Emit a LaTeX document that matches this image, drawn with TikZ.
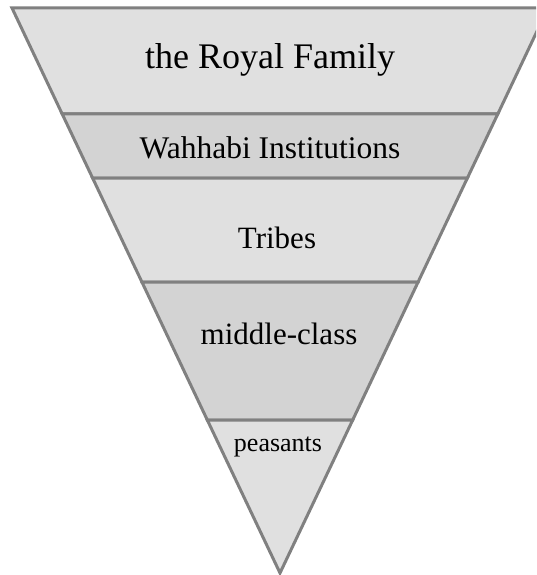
\documentclass[tikz,border=0pt]{standalone}
\usepackage{fontspec}
\setmainfont{Liberation Serif}
\definecolor{bandlight}{HTML}{E0E0E0}
\definecolor{banddark}{HTML}{D3D3D3}
\definecolor{edgegray}{HTML}{808080}
\begin{document}
\begin{tikzpicture}[x=1pt,y=-1pt,
  band/.style={draw=edgegray,line width=3pt,line join=miter},
  label/.style={inner sep=0pt,anchor=center,text=black}]
\useasboundingbox (0,0) rectangle (536,575);
\clip (0,0) rectangle (536,575);
% layer boundaries of the inverted pyramid
\coordinate (l0) at (12,8);     \coordinate (r0) at (548,8);
\coordinate (l1) at (62.2,114); \coordinate (r1) at (497.8,114);
\coordinate (l2) at (92.6,178); \coordinate (r2) at (467.4,178);
\coordinate (l3) at (141.9,282);\coordinate (r3) at (418.1,282);
\coordinate (l4) at (207.3,420);\coordinate (r4) at (352.7,420);
\coordinate (apex) at (280,573);
% bands
\path[band,fill=bandlight] (l0) -- (r0) -- (r1) -- (l1) -- cycle;
\path[band,fill=banddark]  (l1) -- (r1) -- (r2) -- (l2) -- cycle;
\path[band,fill=bandlight] (l2) -- (r2) -- (r3) -- (l3) -- cycle;
\path[band,fill=banddark]  (l3) -- (r3) -- (r4) -- (l4) -- cycle;
\path[band,fill=bandlight] (l4) -- (r4) -- (apex) -- cycle;
% labels
\node[label,font=\fontsize{36}{40}\selectfont] (royal) at (270,60) {the Royal Family};
\node[label,font=\fontsize{31.5}{36}\selectfont] (wahhabi) at (270,148) {Wahhabi Institutions};
\node[label,font=\fontsize{31}{36}\selectfont] (tribes) at (277,238) {Tribes};
\node[label,font=\fontsize{31}{36}\selectfont] (middle) at (279,334) {middle-class};
\node[label,font=\fontsize{26}{30}\selectfont] (peasants) at (278,447) {peasants};
\end{tikzpicture}
\end{document}
